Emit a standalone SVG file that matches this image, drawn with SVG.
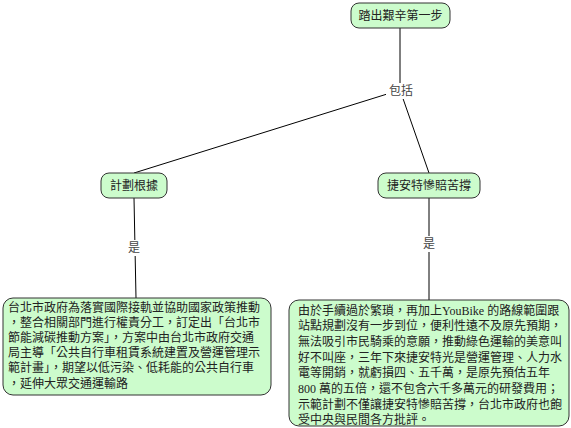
<svg xmlns="http://www.w3.org/2000/svg" width="571" height="428" viewBox="0 0 571 428">
<style>
.box{fill:#ccfccc;stroke:#333;stroke-width:1}
.t{font-family:"Liberation Serif","Noto Sans CJK TC",serif;font-size:12px;fill:#222}
.c{text-anchor:middle}
.ln{stroke:#000;stroke-width:1;fill:none}
.lbl{font-family:"Noto Sans CJK TC",sans-serif;font-size:12px;fill:#444;text-anchor:middle}
</style>
<rect width="571" height="428" fill="#fff"/>
<g id="connectors">
<line class="ln" x1="400" y1="28" x2="400" y2="90"/>
<line class="ln" x1="400" y1="90" x2="134" y2="173"/>
<line class="ln" x1="400" y1="90" x2="429" y2="173"/>
<line class="ln" x1="134" y1="198" x2="136" y2="298"/>
<line class="ln" x1="429" y1="198" x2="429" y2="300"/>
<rect x="386" y="83" width="30" height="16" fill="#fff"/>
<text class="lbl" x="401" y="95">包括</text>
<rect x="126" y="240" width="15" height="16" fill="#fff"/>
<text class="lbl" x="134" y="252">是</text>
<rect x="422" y="236" width="15" height="16" fill="#fff"/>
<text class="lbl" x="429" y="248">是</text>
</g>
<g id="root">
<rect class="box" x="351" y="3" width="99" height="25" rx="8"/>
<text class="t c" x="400.5" y="20">踏出艱辛第一步</text>
</g>
<g id="plan">
<rect class="box" x="101" y="173" width="66" height="25" rx="8"/>
<text class="t c" x="134" y="190">計劃根據</text>
</g>
<g id="giant">
<rect class="box" x="378" y="173" width="102" height="25" rx="8"/>
<text class="t c" x="429" y="190">捷安特慘賠苦撐</text>
</g>
<g id="planDetail">
<rect class="box" x="3" y="298" width="268" height="97" rx="10"/>
<text class="t" x="8" y="311.5">台北市政府為落實國際接軌並協助國家政策推動</text>
<text class="t" x="8" y="326.7">，整合相關部門進行權責分工，訂定出「台北市</text>
<text class="t" x="8" y="342">節能減碳推動方案」，方案中由台北市政府交通</text>
<text class="t" x="8" y="357.2">局主導「公共自行車租賃系統建置及營運管理示</text>
<text class="t" x="8" y="372.4">範計畫」，期望以低污染、低耗能的公共自行車</text>
<text class="t" x="8" y="387.6">，延伸大眾交通運輸路</text>
</g>
<g id="giantDetail">
<rect class="box" x="289" y="300" width="280" height="126" rx="10"/>
<text class="t" x="298" y="314.5">由於手續過於繁瑣，再加上YouBike 的路線範圍跟</text>
<text class="t" x="298" y="330.2">站點規劃沒有一步到位，便利性遠不及原先預期，</text>
<text class="t" x="298" y="345.9">無法吸引市民騎乘的意願，推動綠色運輸的美意叫</text>
<text class="t" x="298" y="361.6">好不叫座，三年下來捷安特光是營運管理、人力水</text>
<text class="t" x="298" y="377.3">電等開銷，就虧損四、五千萬，是原先預估五年</text>
<text class="t" x="298" y="393">800 萬的五倍，還不包含六千多萬元的研發費用；</text>
<text class="t" x="298" y="408.7">示範計劃不僅讓捷安特慘賠苦撐，台北市政府也飽</text>
<text class="t" x="298" y="424.4">受中央與民間各方批評。</text>
</g>
</svg>
